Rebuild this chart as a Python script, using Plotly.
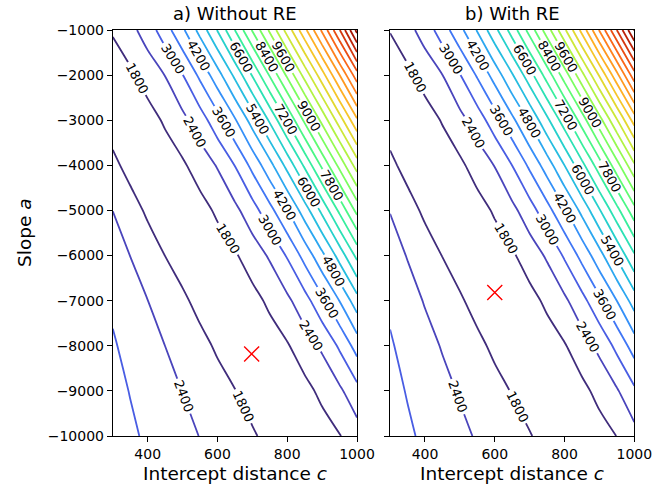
import plotly.graph_objects as go

# ---------------- data ----------------
c_values = [300, 350, 400, 450, 500, 550, 600, 650, 700, 750, 800, 850, 900, 950, 1000]
a_values = [-1000, -2000, -3000, -4000, -5000, -6000, -7000, -8000, -9000, -10000]

# cost surface, panel a) Without RE  (rows follow a_values, columns follow c_values)
z_without = [
    [1858, 2219, 2683, 3330, 4092, 5000, 6032, 7205, 8450, 9707, 11040, 12429, 13908, 15565, 17593],
    [1480, 1691, 2048, 2415, 2981, 3728, 4551, 5532, 6642, 7858, 9108, 10408, 11757, 13194, 14743],
    [1523, 1451, 1571, 1877, 2238, 2712, 3369, 4132, 5052, 6093, 7265, 8515, 9776, 11109, 12503],
    [1945, 1600, 1458, 1495, 1714, 2067, 2444, 3014, 3768, 4598, 5587, 6704, 7923, 9173, 10477],
    [2395, 2047, 1704, 1494, 1457, 1591, 1895, 2257, 2742, 3408, 4172, 5104, 6153, 7330, 8580],
    [2691, 2394, 2097, 1795, 1547, 1451, 1513, 1733, 2086, 2474, 3053, 3808, 4645, 5641, 6765],
    [2905, 2655, 2405, 2153, 1901, 1631, 1472, 1466, 1613, 1914, 2276, 2771, 3447, 4215, 5156],
    [3057, 2838, 2619, 2398, 2181, 1962, 1722, 1515, 1450, 1529, 1751, 2104, 2503, 3092, 3848],
    [3176, 2980, 2784, 2588, 2392, 2200, 2008, 1815, 1574, 1458, 1478, 1632, 1933, 2294, 2801],
    [3268, 3092, 2915, 2739, 2562, 2386, 2213, 2039, 1866, 1641, 1485, 1454, 1549, 1770, 2123],
]

# cost surface, panel b) With RE
z_with = [
    [1824, 2198, 2667, 3299, 4025, 4846, 5820, 6869, 8028, 9313, 10688, 12191, 13849, 15602, 17440],
    [1472, 1662, 2018, 2393, 2970, 3666, 4439, 5343, 6354, 7456, 8687, 10019, 11460, 13026, 14756],
    [1528, 1450, 1553, 1839, 2213, 2691, 3327, 4055, 4884, 5860, 6913, 8078, 9365, 10744, 12255],
    [1934, 1600, 1459, 1488, 1687, 2041, 2423, 3006, 3711, 4489, 5402, 6417, 7526, 8765, 10102],
    [2379, 2026, 1690, 1493, 1456, 1579, 1869, 2243, 2737, 3382, 4115, 4961, 5940, 7001, 8177],
    [2662, 2371, 2080, 1787, 1543, 1451, 1510, 1721, 2078, 2481, 3075, 3786, 4573, 5500, 6521],
    [2902, 2629, 2361, 2115, 1869, 1609, 1467, 1469, 1613, 1914, 2288, 2807, 3466, 4205, 5075],
    [3056, 2823, 2591, 2361, 2145, 1929, 1688, 1501, 1451, 1537, 1758, 2123, 2551, 3159, 3875],
    [3173, 2967, 2762, 2556, 2354, 2163, 1972, 1771, 1548, 1453, 1488, 1652, 1966, 2340, 2888],
    [3270, 3085, 2900, 2715, 2530, 2349, 2177, 2006, 1834, 1605, 1471, 1460, 1572, 1809, 2183],
]

# best-fit markers (c, a)
best_without = [698, -8180]
best_with = [600, -6820]

# contour levels (1200 and 18000 lie outside the data, they only pin the colour range)
level_start, level_end, level_step = 1200, 18000, 600

# tick labels
x_ticks = [400, 600, 800, 1000]
x_ticktext = ["400", "600", "800", "1000"]
y_ticks = [-1000, -2000, -3000, -4000, -5000, -6000, -7000, -8000, -9000, -10000]
y_ticktext = ["\u22121000", "\u22122000", "\u22123000", "\u22124000", "\u22125000",
              "\u22126000", "\u22127000", "\u22128000", "\u22129000", "\u221210000"]

panel_titles = ["a) Without RE", "b) With RE"]
x_title = "Intercept distance <i>c</i>"
y_title = "Slope <i>a</i>"

# ---------------- turbo colour map (polynomial approximation) ----------------
def turbo(t):
    r = 0.13572138 + t * (4.61539260 + t * (-42.66032258 + t * (132.13108234 + t * (-152.94239396 + t * 59.28637943))))
    g = 0.09140261 + t * (2.19418839 + t * (4.84296658 + t * (-14.18503333 + t * (4.27729857 + t * 2.82956604))))
    b = 0.10667330 + t * (12.64194608 + t * (-60.58204836 + t * (110.36276771 + t * (-89.90310912 + t * 27.34824973))))
    clip = lambda v: int(round(255 * min(1.0, max(0.0, v))))
    return "rgb(%d,%d,%d)" % (clip(r), clip(g), clip(b))

n_stops = 64
turbo_scale = [[i / (n_stops - 1), turbo(i / (n_stops - 1))] for i in range(n_stops)]

# ---------------- figure ----------------
W, H = 656, 488
FONT = "DejaVu Sans"

def contour_trace(z, xa, ya):
    return go.Contour(
        x=c_values, y=a_values, z=z,
        xaxis=xa, yaxis=ya,
        autocontour=False,
        contours=dict(start=level_start, end=level_end, size=level_step,
                      coloring="lines", showlabels=True,
                      labelfont=dict(size=13, color="black", family=FONT),
                      labelformat="d"),
        colorscale=turbo_scale,
        showscale=False,
        line=dict(width=1.8, smoothing=0.8),
        hoverinfo="skip",
    )

fig = go.Figure()
fig.add_trace(contour_trace(z_without, "x", "y"))
fig.add_trace(contour_trace(z_with, "x2", "y2"))

for pt, xa, ya in [(best_without, "x", "y"), (best_with, "x2", "y2")]:
    fig.add_trace(go.Scatter(
        x=[pt[0]], y=[pt[1]], xaxis=xa, yaxis=ya, mode="markers",
        marker=dict(symbol="x-thin", size=15, line=dict(width=1.4, color="red"), color="red"),
        showlegend=False, hoverinfo="skip"))

def px_x(p):
    return p / W

def px_y(p):
    return 1 - p / H

x1_dom = [px_x(112.8), px_x(357.0)]
x2_dom = [px_x(390.1), px_x(634.3)]
y_dom = [px_y(436.0), px_y(30.0)]

axis_common = dict(showgrid=False, zeroline=False, ticks="outside", ticklen=5, tickwidth=1,
                   tickcolor="black", showline=True, linecolor="black", linewidth=1,
                   mirror=True, automargin=False,
                   tickfont=dict(family=FONT, size=14, color="black"))

fig.update_layout(
    width=W, height=H,
    margin=dict(l=0, r=0, t=0, b=0, autoexpand=False),
    paper_bgcolor="white", plot_bgcolor="white",
    showlegend=False,
    font=dict(family=FONT, color="black"),
    xaxis=dict(domain=x1_dom, range=[300, 1000], tickvals=x_ticks, ticktext=x_ticktext,
               anchor="y", **axis_common),
    xaxis2=dict(domain=x2_dom, range=[300, 1000], tickvals=x_ticks, ticktext=x_ticktext,
                anchor="y2", **axis_common),
    yaxis=dict(domain=y_dom, range=[-10000, -1000], tickvals=y_ticks, ticktext=y_ticktext,
               anchor="x", **axis_common),
    yaxis2=dict(domain=y_dom, range=[-10000, -1000], tickvals=y_ticks, ticktext=y_ticktext,
                anchor="x2", matches="y", showticklabels=False, **axis_common),
)

TITLE_SIZE = 18
LABEL_SIZE = 18.5
annotations = [
    dict(text=panel_titles[0], x=(x1_dom[0] + x1_dom[1]) / 2, y=px_y(14), xref="paper", yref="paper",
         showarrow=False, font=dict(size=TITLE_SIZE, family=FONT), xanchor="center", yanchor="middle"),
    dict(text=panel_titles[1], x=(x2_dom[0] + x2_dom[1]) / 2, y=px_y(14), xref="paper", yref="paper",
         showarrow=False, font=dict(size=TITLE_SIZE, family=FONT), xanchor="center", yanchor="middle"),
    dict(text=x_title, x=(x1_dom[0] + x1_dom[1]) / 2, y=px_y(473), xref="paper", yref="paper",
         showarrow=False, font=dict(size=LABEL_SIZE, family=FONT), xanchor="center", yanchor="middle"),
    dict(text=x_title, x=(x2_dom[0] + x2_dom[1]) / 2, y=px_y(473), xref="paper", yref="paper",
         showarrow=False, font=dict(size=LABEL_SIZE, family=FONT), xanchor="center", yanchor="middle"),
    dict(text=y_title, x=px_x(24), y=(y_dom[0] + y_dom[1]) / 2, xref="paper", yref="paper",
         showarrow=False, font=dict(size=LABEL_SIZE, family=FONT), textangle=-90,
         xanchor="center", yanchor="middle"),
]
fig.update_layout(annotations=annotations)

# remove the browser's default 8 px body margin so the figure sits at the page origin
fig.write_html("out.html", config={"displayModeBar": False},
               post_script="document.body.style.margin = '0px';")
